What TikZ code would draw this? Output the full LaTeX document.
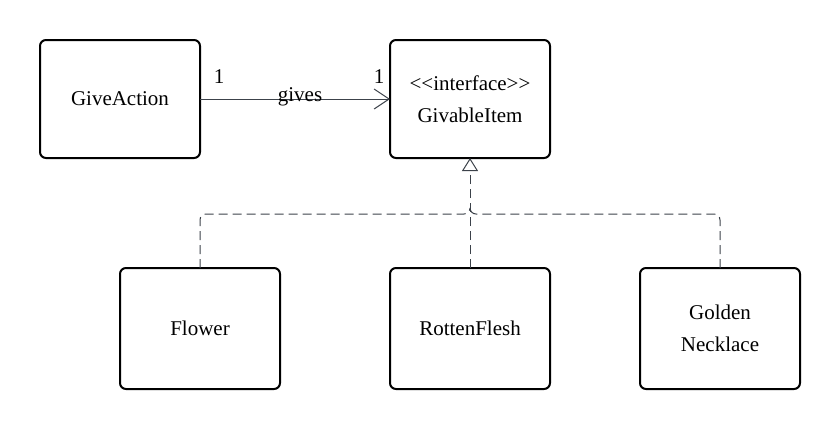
\documentclass[tikz,border=0pt]{standalone}
\usepackage{fontspec}
\setmainfont[Ligatures=NoCommon]{Liberation Serif}
\usetikzlibrary{arrows.meta,calc}
\definecolor{linecol}{RGB}{60,66,74}
\begin{document}
\begin{tikzpicture}[x=1pt,y=-1pt,
  txt/.style={font=\fontsize{21}{32}\selectfont},
  cls/.style={draw=black, line width=2pt, rounded corners=6pt, minimum width=160pt, align=center, txt, inner sep=0pt, outer sep=0pt},
  topcls/.style={cls, minimum height=118pt},
  botcls/.style={cls, minimum height=121pt},
  conn/.style={draw=linecol, line width=1pt},
  dashline/.style={conn, dash pattern=on 9pt off 5pt, rounded corners=6pt},
  lbl/.style={txt, inner sep=0pt}]
\useasboundingbox (0,0) rectangle (840,429);
\node[topcls] (give) at (120,99) {GiveAction};
\node[topcls] (givable) at (470,99) {{<}{<}interface{>}{>}\\GivableItem};
\node[botcls] (flower) at (200,328.5) {Flower};
\node[botcls] (rotten) at (470,328.5) {RottenFlesh};
\node[botcls] (golden) at (720,328.5) {Golden\\Necklace};
\coordinate (j) at (470,214);
\draw[conn, -{Straight Barb[length=15pt,width=20pt]}] (give.east) -- (givable.west);
\node[lbl] (m1) at (219,77) {1};
\node[lbl] (m2) at (379,77) {1};
\node[lbl] (gv) at (300,97) {gives};
\draw[dashline] (flower.north) |- (j) -- ($(j)+(0,-6)$);
\draw[dashline] (golden.north) |- (j) -- ($(j)+(0,-6)$);
\draw[dashline, -{Triangle[open, length=13pt, width=16pt]}] (rotten.north) -- (givable.south);
\end{tikzpicture}
\end{document}
